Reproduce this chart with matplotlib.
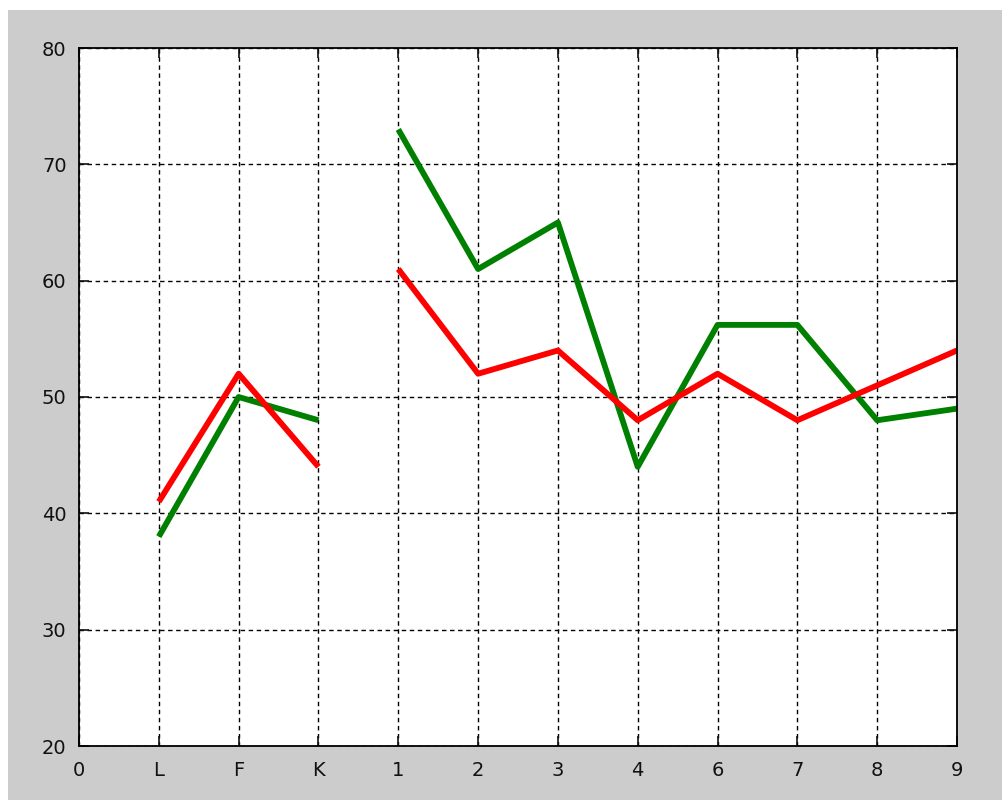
import numpy as np
import matplotlib.pyplot as plt
from matplotlib.patches import Rectangle

# tick labels along x, one per integer position
labels = ["0", "L", "F", "K", "1", "2", "3", "4", "6", "7", "8", "9"]

# values per position (NaN = no value, breaks the line)
green = [np.nan, 38, 50, 48, 73, 61, 65, 44, 56.2, 56.2, 48, 49]
red = [np.nan, 41, 52, 44, 61, 52, 54, 48, 52, 48, 51, 54]
# the first block (L, F, K) is not joined to the numbered block
gap_after = 3

W, H = 1002, 800
fig = plt.figure(figsize=(W / 100, H / 100), dpi=100, facecolor="white")
fig.patches.append(Rectangle((8 / W, 0), 1, 1 - 10 / H, transform=fig.transFigure,
                             facecolor="#cccccc", edgecolor="none", zorder=-1))

ax = fig.add_axes([79 / W, 54 / H, 878 / W, 698 / H])
ax.set_facecolor("white")

x = np.arange(len(labels))
for vals, col in [(green, "#008000"), (red, "#ff0000")]:
    v = np.array(vals, dtype=float)
    ax.plot(x[:gap_after + 1], v[:gap_after + 1], color=col, lw=4.2, solid_capstyle="butt")
    ax.plot(x[gap_after + 1:], v[gap_after + 1:], color=col, lw=4.2, solid_capstyle="butt")

ax.set_xlim(0, len(labels) - 1)
ax.set_ylim(20, 80)
ax.set_xticks(x)
ax.set_xticklabels(labels)
ax.set_yticks(np.arange(20, 81, 10))
ax.grid(True, color="black", linestyle=(0, (3.2, 2.6)), linewidth=1.0)
ax.tick_params(direction="in", length=7, width=1.2, top=True, right=True,
               labelsize=14, colors="#111111")
ax.tick_params(axis="x", pad=11)
ax.tick_params(axis="y", pad=9)
for s in ax.spines.values():
    s.set_linewidth(1.3)

plt.savefig("out.png", dpi=100, facecolor="white")
